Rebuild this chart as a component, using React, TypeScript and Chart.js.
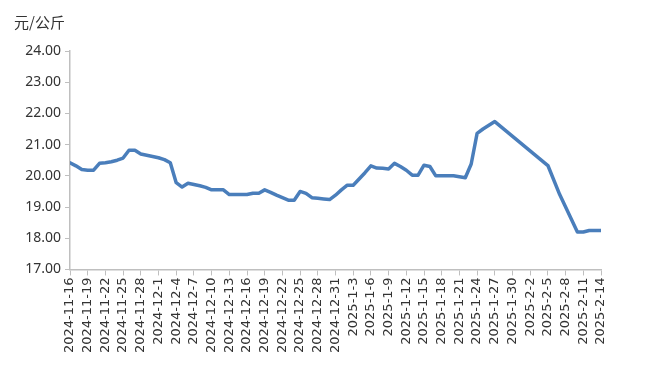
import React, { useEffect, useRef } from "react";
import { Chart, registerables } from "chart.js";

Chart.register(...registerables);

// Day labels (every day from 2024-11-16 to 2025-2-14)
const monthDays: [number, number, number][] = [
  [2024, 11, 30],
  [2024, 12, 31],
  [2025, 1, 31],
  [2025, 2, 28],
];

function buildDates(): string[] {
  const out: string[] = [];
  let first = true;
  for (const [y, m, n] of monthDays) {
    for (let d = first ? 16 : 1; d <= n; d++) {
      out.push(`${y}-${m}-${d}`);
      if (out.length === 91) return out;
    }
    first = false;
  }
  return out;
}
const dates = buildDates();

// price, 元/公斤 (null = no quote that day)
const prices: (number | null)[] = [
  20.42, 20.32, 20.2, 20.18, 20.18, 20.4, 20.42, 20.45, 20.5, 20.57,
  20.82, 20.82, 20.7, 20.66, 20.62, 20.58, 20.52, 20.42, 19.78, 19.64,
  19.76, 19.72, 19.68, 19.63, 19.55, 19.55, 19.55, 19.4, 19.4, 19.4,
  19.4, 19.44, 19.44, 19.55, 19.47, 19.38, 19.3, 19.22, 19.22, 19.5,
  19.44, 19.3, 19.28, 19.26, 19.24, 19.38, 19.55, 19.7, 19.7, 19.9,
  20.1, 20.32, 20.25, 20.24, 20.22, 20.4, 20.3, 20.18, 20.02, 20.02,
  20.34, 20.3, 20.0, 20.0, 20.0, 20.0, 19.97, 19.94, 20.38, 21.36,
  21.5, 21.62, 21.74, null, null, null, null, null, null, null,
  null, 20.33, null, 19.4, null, null, 18.2, 18.2, 18.25, 18.25,
  18.25,
];

const yMin = 17;
const yMax = 24;
const unitLabel = "元/公斤";

export default function App() {
  const ref = useRef<HTMLCanvasElement>(null);
  useEffect(() => {
    if (!ref.current) return;
    const points = prices.map((v, i) => ({ x: i, y: v }));
    const chart = new Chart(ref.current, {
      type: "line",
      data: {
        datasets: [
          {
            data: points as any,
            borderColor: "#4a7ebb",
            borderWidth: 3.5,
            pointRadius: 0,
            spanGaps: true,
            tension: 0,
            borderJoinStyle: "round",
            borderCapStyle: "round",
          },
        ],
      },
      options: {
        animation: false,
        responsive: false,
        maintainAspectRatio: false,
        layout: { padding: { left: 14, right: 51, top: 0, bottom: 12 } },
        plugins: {
          legend: { display: false },
          tooltip: { enabled: false },
          title: {
            display: true,
            text: unitLabel,
            align: "start",
            color: "#333",
            font: { size: 15, weight: "normal", family: "'Noto Sans CJK SC', 'Noto Sans'" },
            padding: { top: 13, bottom: 20 },
          },
        },
        scales: {
          x: {
            type: "linear",
            min: 0,
            max: 90,
            afterBuildTicks: (scale: any) => {
              const t = [];
              for (let i = 0; i <= 90; i += 3) t.push({ value: i });
              scale.ticks = t;
            },
            ticks: {
              autoSkip: false,
              minRotation: 90,
              maxRotation: 90,
              color: "#333",
              font: { size: 13, family: "'DejaVu Sans'" },
              padding: 2,
              callback: (v: any) => dates[Number(v)] ?? "",
            },
            grid: {
              drawOnChartArea: false,
              drawTicks: true,
              tickLength: 6,
              color: "#bfbfbf",
            },
            border: { display: true, color: "#bfbfbf", width: 1.5 },
          },
          y: {
            min: yMin,
            max: yMax,
            afterFit: (scale: any) => {
              scale.width = 56;
            },
            ticks: {
              stepSize: 1,
              color: "#333",
              font: { size: 14, family: "'Noto Sans'" },
              padding: 4,
              callback: (v: any) => Number(v).toFixed(2),
            },
            grid: {
              drawOnChartArea: false,
              drawTicks: true,
              tickLength: 5,
              color: "#bfbfbf",
            },
            border: { display: true, color: "#bfbfbf", width: 1.5 },
          },
        },
      },
    });
    return () => chart.destroy();
  }, []);
  return (
    <div style={{ position: "absolute", left: 0, top: 0, width: 652, height: 367, background: "#fff" }}>
      <canvas ref={ref} width={652} height={367} style={{ width: 652, height: 367 }} />
    </div>
  );
}
